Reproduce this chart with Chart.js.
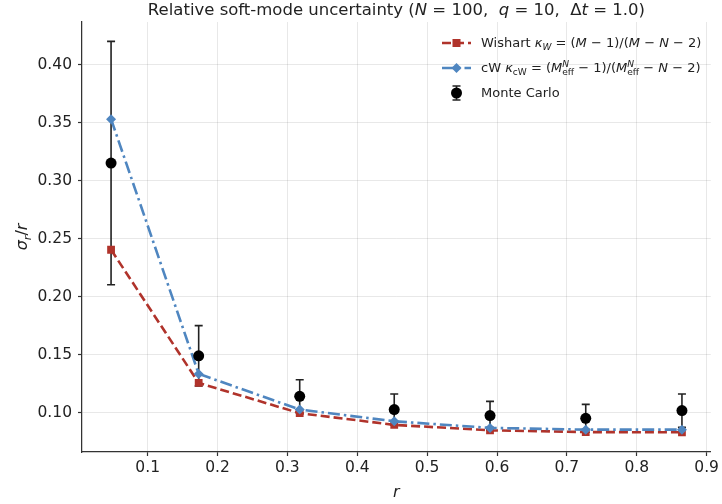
<!DOCTYPE html>
<html>
<head>
<meta charset="utf-8">
<script src="https://cdn.jsdelivr.net/npm/chart.js@4.4.1/dist/chart.umd.min.js"></script>
<style>
  html, body { margin: 0; padding: 0; background: #fff; }
  #wrap { width: 722px; height: 504px; position: relative; }
</style>
</head>
<body>
<div id="wrap"><canvas id="chart" width="722" height="504"></canvas></div>
<script>
// values
const rValues = [0.0476, 0.173, 0.3176, 0.4529, 0.590, 0.727, 0.8647];
const wishart = [0.2405, 0.1256, 0.0995, 0.0894, 0.0847, 0.0832, 0.0830];
const cwValues = [0.3532, 0.1334, 0.1026, 0.0925, 0.0868, 0.0853, 0.0853];
const monteCarlo = [0.3153, 0.149, 0.114, 0.1026, 0.0974, 0.0951, 0.1017];
const mcError = [0.105, 0.026, 0.0144, 0.0134, 0.0123, 0.012, 0.0143];
const xTicks = [0.1, 0.2, 0.3, 0.4, 0.5, 0.6, 0.7, 0.8, 0.9];
const yTicks = [0.10, 0.15, 0.20, 0.25, 0.30, 0.35, 0.40];

const RED = '#b0332b';
const BLUE = '#4f86c0';
const FONT = '"DejaVu Sans", sans-serif';
const TXT = '#222';
const RED_DASH = [9, 4];
const BLUE_DASH = [12, 4, 2.5, 4];

function pts(ys) {
    return rValues.map(function (x, i) { return { x: x, y: ys[i] }; });
}

// draw a run of text pieces: {t, i: italic, sub, sup}
function richWidth(ctx, segs, size) {
    let w = 0;
    segs.forEach(function (s) { w += segWidth(ctx, s, size); });
    return w;
}
function fontOf(italic, size) {
    return (italic ? 'oblique ' : '') + size + 'px ' + FONT;
}
function segWidth(ctx, s, size) {
    if (s.sub !== undefined || s.sup !== undefined) {
        let w = 0;
        if (s.sub) { ctx.font = fontOf(s.subI, size * 0.7); w = Math.max(w, ctx.measureText(s.sub).width); }
        if (s.sup) { ctx.font = fontOf(s.supI, size * 0.7); w = Math.max(w, ctx.measureText(s.sup).width); }
        return w;
    }
    ctx.font = fontOf(s.i, size);
    return ctx.measureText(s.t).width;
}
function drawRich(ctx, segs, x, y, size, align) {
    let w = richWidth(ctx, segs, size);
    let cx = x;
    if (align === 'center') cx = x - w / 2;
    if (align === 'right') cx = x - w;
    ctx.textBaseline = 'alphabetic';
    ctx.textAlign = 'left';
    segs.forEach(function (s) {
        let sw = segWidth(ctx, s, size);
        if (s.sub !== undefined || s.sup !== undefined) {
            if (s.sub) { ctx.font = fontOf(s.subI, size * 0.7); ctx.fillText(s.sub, cx, y + size * 0.25); }
            if (s.sup) { ctx.font = fontOf(s.supI, size * 0.7); ctx.fillText(s.sup, cx, y - size * 0.42); }
        } else {
            ctx.font = fontOf(s.i, size);
            ctx.fillText(s.t, cx, y);
        }
        cx += sw;
    });
}

const titleSegs = [
    { t: 'Relative soft-mode uncertainty (' }, { t: 'N', i: true }, { t: ' = 100,  ' },
    { t: 'q', i: true }, { t: ' = 10,  Δ' }, { t: 't', i: true }, { t: ' = 1.0)' }
];
const wishartLabel = [
    { t: 'Wishart ' }, { t: 'κ', i: true }, { sub: 'W', subI: true }, { t: ' = (' }, { t: 'M', i: true },
    { t: ' − 1)/(' }, { t: 'M', i: true }, { t: ' − ' }, { t: 'N', i: true }, { t: ' − 2)' }
];
const cwLabel = [
    { t: 'cW ' }, { t: 'κ', i: true }, { sub: 'cW' }, { t: ' = (' }, { t: 'M', i: true }, { sub: 'eff', sup: 'N', supI: true },
    { t: ' − 1)/(' }, { t: 'M', i: true }, { sub: 'eff', sup: 'N', supI: true }, { t: ' − ' }, { t: 'N', i: true }, { t: ' − 2)' }
];
const mcLabel = [{ t: 'Monte Carlo' }];

const errorBars = {
    id: 'errorBars',
    beforeDatasetsDraw: function (chart) {
        const ctx = chart.ctx, xs = chart.scales.x, ys = chart.scales.y;
        ctx.save();
        ctx.strokeStyle = '#222';
        ctx.lineWidth = 1.6;
        rValues.forEach(function (r, i) {
            const px = xs.getPixelForValue(r);
            const top = ys.getPixelForValue(monteCarlo[i] + mcError[i]);
            const bot = ys.getPixelForValue(monteCarlo[i] - mcError[i]);
            ctx.beginPath();
            ctx.moveTo(px, top); ctx.lineTo(px, bot);
            ctx.moveTo(px - 4, top); ctx.lineTo(px + 4, top);
            ctx.moveTo(px - 4, bot); ctx.lineTo(px + 4, bot);
            ctx.stroke();
        });
        ctx.restore();
    }
};

const decorations = {
    id: 'decorations',
    afterDraw: function (chart) {
        const ctx = chart.ctx, area = chart.chartArea;
        ctx.save();
        ctx.fillStyle = TXT;
        drawRich(ctx, titleSegs, (area.left + area.right) / 2, 15, 16.5, 'center');
        drawRich(ctx, [{ t: 'r', i: true }], (area.left + area.right) / 2, 497, 16, 'center');
        ctx.save();
        ctx.translate(27, (area.top + area.bottom) / 2);
        ctx.rotate(-Math.PI / 2);
        drawRich(ctx, [{ t: 'σ', i: true }, { sub: 'r', subI: true }, { t: '/' }, { t: 'r', i: true }], 0, 0, 16, 'center');
        ctx.restore();

        // legend
        const lx0 = 442, lx1 = 471, tx = 481;
        const rows = [47, 72, 97];
        const dx = (lx0 + lx1) / 2;
        ctx.lineWidth = 2.6;
        // Wishart
        ctx.strokeStyle = RED; ctx.setLineDash(RED_DASH);
        ctx.beginPath(); ctx.moveTo(lx0, rows[0] - 4); ctx.lineTo(lx1, rows[0] - 4); ctx.stroke();
        ctx.setLineDash([]);
        ctx.fillStyle = RED; ctx.fillRect(dx - 4, rows[0] - 8, 8, 8);
        // cW
        ctx.strokeStyle = BLUE; ctx.setLineDash(BLUE_DASH);
        ctx.beginPath(); ctx.moveTo(lx0, rows[1] - 4); ctx.lineTo(lx1, rows[1] - 4); ctx.stroke();
        ctx.setLineDash([]);
        ctx.fillStyle = BLUE;
        const dy = rows[1] - 4;
        ctx.beginPath(); ctx.moveTo(dx, dy - 5); ctx.lineTo(dx + 5, dy); ctx.lineTo(dx, dy + 5); ctx.lineTo(dx - 5, dy); ctx.closePath(); ctx.fill();
        // Monte Carlo
        const my = rows[2] - 4;
        ctx.strokeStyle = '#222'; ctx.lineWidth = 1.6;
        ctx.beginPath();
        ctx.moveTo(dx, my - 7); ctx.lineTo(dx, my + 7);
        ctx.moveTo(dx - 4, my - 7); ctx.lineTo(dx + 4, my - 7);
        ctx.moveTo(dx - 4, my + 7); ctx.lineTo(dx + 4, my + 7);
        ctx.stroke();
        ctx.fillStyle = '#000';
        ctx.beginPath(); ctx.arc(dx, my, 5.5, 0, Math.PI * 2); ctx.fill();

        ctx.fillStyle = TXT;
        drawRich(ctx, wishartLabel, tx, rows[0], 13, 'left');
        drawRich(ctx, cwLabel, tx, rows[1], 13, 'left');
        drawRich(ctx, mcLabel, tx, rows[2], 13, 'left');
        ctx.restore();
    }
};

new Chart(document.getElementById('chart'), {
    type: 'line',
    data: {
        datasets: [
            {
                label: 'Monte Carlo',
                data: pts(monteCarlo),
                showLine: false,
                pointStyle: 'circle',
                pointRadius: 5.5,
                backgroundColor: '#000',
                borderColor: '#000',
                borderWidth: 0,
                order: 0
            },
            {
                label: 'cW',
                data: pts(cwValues),
                borderColor: BLUE,
                backgroundColor: BLUE,
                borderWidth: 2.6,
                borderDash: BLUE_DASH,
                pointStyle: 'rectRot',
                pointRadius: 5,
                pointBorderWidth: 0,
                tension: 0,
                order: 1
            },
            {
                label: 'Wishart',
                data: pts(wishart),
                borderColor: RED,
                backgroundColor: RED,
                borderWidth: 2.6,
                borderDash: RED_DASH,
                pointStyle: 'rect',
                pointRadius: 5.5,
                pointBorderWidth: 0,
                tension: 0,
                order: 2
            }
        ]
    },
    options: {
        responsive: false,
        animation: false,
        layout: { padding: { top: 22, right: 10, left: 0, bottom: 0 } },
        plugins: { legend: { display: false }, title: { display: false }, tooltip: { enabled: false } },
        scales: {
            x: {
                type: 'linear',
                min: 0.006,
                max: 0.906,
                afterBuildTicks: function (scale) { scale.ticks = xTicks.map(function (v) { return { value: v }; }); },
                afterFit: function (scale) { scale.height = 52; },
                ticks: { color: TXT, font: { family: FONT, size: 15.5 }, padding: 3, maxRotation: 0,
                    callback: function (v) { return v.toFixed(1); } },
                grid: { color: 'rgba(0,0,0,0.09)', lineWidth: 1, tickLength: 4, tickColor: '#333', tickWidth: 1.2 },
                border: { display: true, color: '#333', width: 1.25 }
            },
            y: {
                min: 0.066,
                max: 0.437,
                afterBuildTicks: function (scale) { scale.ticks = yTicks.map(function (v) { return { value: v }; }); },
                afterFit: function (scale) { scale.width = 82; },
                ticks: { color: TXT, font: { family: FONT, size: 15.5 }, padding: 6,
                    callback: function (v) { return v.toFixed(2); } },
                grid: { color: 'rgba(0,0,0,0.09)', lineWidth: 1, tickLength: 4, tickColor: '#333', tickWidth: 1.2 },
                border: { display: true, color: '#333', width: 1.25 }
            }
        }
    },
    plugins: [errorBars, decorations]
});
</script>
</body>
</html>
